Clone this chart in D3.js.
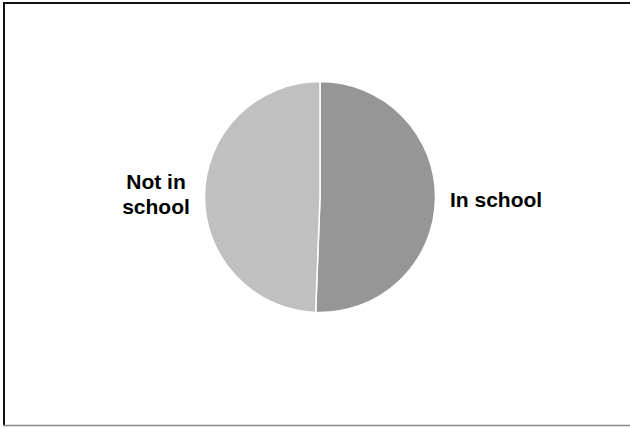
<!DOCTYPE html>
<html>
<head>
<meta charset="utf-8">
<script src="https://cdn.jsdelivr.net/npm/d3@7/dist/d3.min.js"></script>
<style>
  html, body { margin: 0; padding: 0; background: #fff; }
  svg { display: block; }
</style>
</head>
<body>
<svg id="chart" width="630" height="428"></svg>
<script>
// Share of people in / not in school
const categories = ["In school", "Not in school"];
const values = [50.6, 49.4];
const colors = ["#969696", "#c0c0c0"];

const svg = d3.select("#chart");
const W = 630, H = 428;
const cx = 320, cy = 197, radius = 115.5;

// frame
svg.append("line").attr("x1", 4).attr("y1", 3).attr("x2", 4).attr("y2", 426)
  .attr("stroke", "#111").attr("stroke-width", 2);
svg.append("line").attr("x1", 3).attr("y1", 3).attr("x2", W).attr("y2", 3)
  .attr("stroke", "#111").attr("stroke-width", 2);
svg.append("line").attr("x1", 3).attr("y1", 425.5).attr("x2", W).attr("y2", 425.5)
  .attr("stroke", "#888").attr("stroke-width", 1.5);

const data = categories.map((c, i) => ({ name: c, value: values[i], color: colors[i] }));

const pie = d3.pie().value(d => d.value).sort(null);
const arc = d3.arc().innerRadius(0).outerRadius(radius);

const g = svg.append("g").attr("transform", `translate(${cx},${cy})`);
g.selectAll("path")
  .data(pie(data))
  .join("path")
  .attr("d", arc)
  .attr("fill", d => d.data.color)
  .attr("stroke", "#fff")
  .attr("stroke-width", 1.5);

// labels
const font = "'Liberation Sans', Arial, sans-serif";
svg.append("text")
  .attr("x", 450).attr("y", 207)
  .attr("font-family", font).attr("font-weight", "bold").attr("font-size", 21)
  .attr("fill", "#000")
  .text(categories[0]);

const notIn = svg.append("text")
  .attr("text-anchor", "middle")
  .attr("font-family", font).attr("font-weight", "bold").attr("font-size", 21)
  .attr("fill", "#000");
notIn.append("tspan").attr("x", 156).attr("y", 189).text("Not in");
notIn.append("tspan").attr("x", 156).attr("y", 214).text("school");
</script>
</body>
</html>
